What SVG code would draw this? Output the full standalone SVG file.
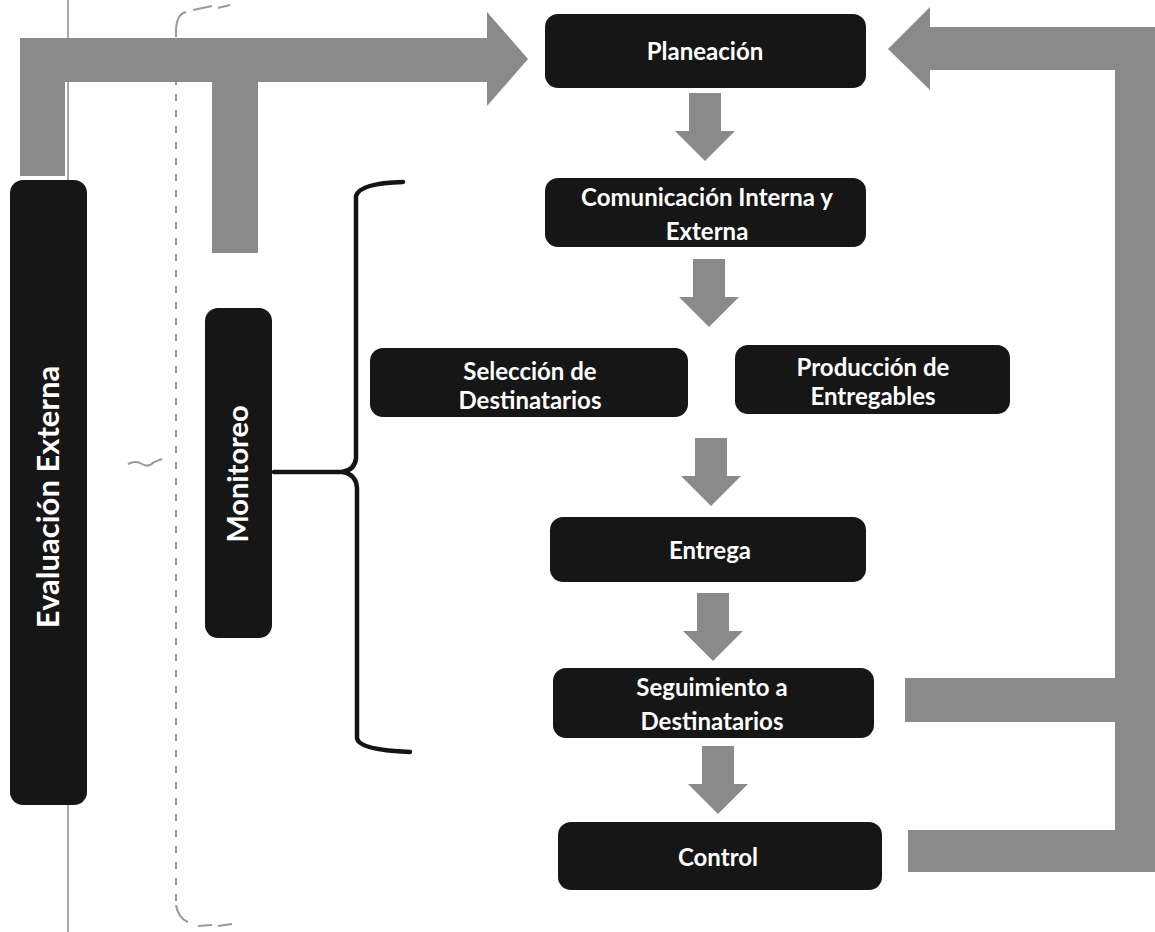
<svg xmlns="http://www.w3.org/2000/svg" width="1155" height="932" viewBox="0 0 1155 932">
<style>
.box{fill:#161616;}
.band{fill:#8a8a8a;}
.t{fill:#ffffff;font-family:Lato,"Open Sans","Liberation Sans",sans-serif;font-weight:bold;font-size:24px;text-anchor:middle;}
.tv1{font-size:31px;}
.tv2{font-size:29px;}
.brace{fill:none;stroke:#141414;stroke-width:4.5;stroke-linecap:round;stroke-linejoin:round;}
.scan{fill:none;stroke:#9a9a9a;stroke-width:2;}
</style>
<defs>
<path id="down" d="M-16,0 H16 V38 H30 L0,68 L-30,38 H-16 Z" fill="#8a8a8a"/>
</defs>
<rect width="1155" height="932" fill="#ffffff"/>
<g id="scan-marks">
<line x1="68" y1="0" x2="68" y2="932" stroke="#6e6e6e" stroke-width="1.2"/>
<line x1="176" y1="30" x2="176" y2="905" class="scan" stroke-dasharray="7 9"/>
<path class="scan" d="M176,32 Q176,14 186,12 M193,10 L212,6 M218,8 L230,5"/>
<path class="scan" d="M176,905 Q178,918 188,922 M198,926 L212,925 M218,926 L232,924"/>
<path class="scan" d="M128,464 Q136,460 142,464 Q148,468 154,462 L162,459"/>
</g>
<g id="connectors">
<path class="band" d="M20,176 V38 H487 V12 L528,59 L487,106 V82 H258 V253 H212 V82 H65 V176 Z"/>
<path class="band" d="M1155,27 H930 V7 L888,49 L930,90 V70 H1115 V678 H905 V722 H1115 V830 H908 V872 H1155 Z"/>
<use href="#down" x="705" y="93"/>
<use href="#down" x="709" y="259"/>
<use href="#down" x="711" y="438"/>
<use href="#down" x="713" y="593"/>
<use href="#down" x="718" y="746"/>
<path class="brace" d="M403,182 Q360,183 356,196 V458 Q355,470 342,472 H274 M342,472 Q356,474 357,488 V738 Q358,750 410,752"/>
</g>
<g id="planeacion">
<rect class="box" x="545" y="14" width="321" height="74" rx="13"/>
<text class="t" x="705" y="60">Planeación</text>
</g>
<g id="comunicacion">
<rect class="box" x="545" y="178" width="321" height="69" rx="13"/>
<text class="t" x="707" y="206">Comunicación Interna y</text>
<text class="t" x="707" y="240">Externa</text>
</g>
<g id="seleccion">
<rect class="box" x="370" y="348" width="318" height="69" rx="13"/>
<text class="t" x="530" y="380">Selección de</text>
<text class="t" x="530" y="409">Destinatarios</text>
</g>
<g id="produccion">
<rect class="box" x="735" y="345" width="275" height="69" rx="13"/>
<text class="t" x="873" y="376">Producción de</text>
<text class="t" x="873" y="405">Entregables</text>
</g>
<g id="entrega">
<rect class="box" x="550" y="517" width="316" height="65" rx="13"/>
<text class="t" x="710" y="559">Entrega</text>
</g>
<g id="seguimiento">
<rect class="box" x="553" y="668" width="321" height="70" rx="13"/>
<text class="t" x="712" y="696">Seguimiento a</text>
<text class="t" x="712" y="730">Destinatarios</text>
</g>
<g id="control">
<rect class="box" x="558" y="822" width="324" height="68" rx="13"/>
<text class="t" x="718" y="866">Control</text>
</g>
<g id="evaluacion">
<rect class="box" x="10" y="180" width="77" height="625" rx="13"/>
<text class="t tv1" transform="translate(59,497) rotate(-90)">Evaluación Externa</text>
</g>
<g id="monitoreo">
<rect class="box" x="205" y="308" width="67" height="330" rx="13"/>
<text class="t tv2" transform="translate(248,474) rotate(-90)">Monitoreo</text>
</g>
</svg>
